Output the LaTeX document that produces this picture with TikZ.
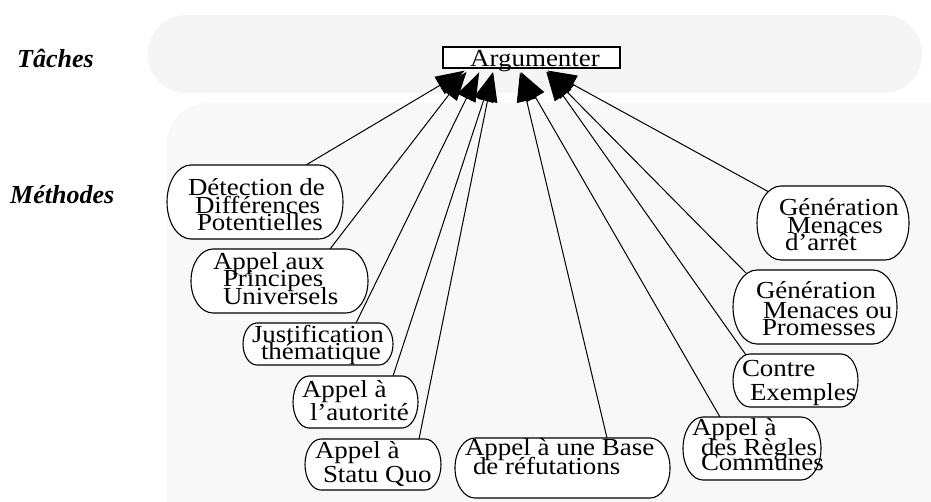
\documentclass[tikz,border=0pt]{standalone}
\usepackage{fontspec}
\setmainfont{Liberation Serif}
\newfontfamily\nodefont[FakeStretch=1.1]{Liberation Serif}
\usetikzlibrary{arrows.meta,calc}
\definecolor{bandA}{gray}{0.96}
\definecolor{bandB}{gray}{0.972}
\newcommand\mline[3]{\makebox[0pt][l]{\hspace*{#1pt}\raisebox{-#2pt}{#3}}}
\newcommand\stadium[2]{%
  \draw[mshape] let \p1=(#1.north west), \p2=(#1.south east), \n1={(\y1-\y2)/2} in
  (\x1+#2pt,\y1) -- (\x2-#2pt,\y1)
  arc[start angle=90,end angle=-90,x radius=#2pt,y radius={\n1*1pt}]
  -- (\x1+#2pt,\y2)
  arc[start angle=270,end angle=90,x radius=#2pt,y radius={\n1*1pt}] -- cycle;}
\tikzset{
  ph/.style={inner sep=0pt, outer sep=0pt, draw=none},
  mshape/.style={draw=black, fill=white, line width=1.1pt},
  txt/.style={inner sep=0pt, anchor=base, font=\nodefont\fontsize{24.5}{24.5}\selectfont},
  lab/.style={inner sep=0pt, anchor=base west, font=\bfseries\itshape\fontsize{26}{26}\selectfont},
  arr/.style={line width=1pt, -{Triangle[length=29pt,width=20pt]}, shorten >=4pt},
}
\begin{document}
\begin{tikzpicture}[x=1pt,y=-1pt]
\useasboundingbox (0,0) rectangle (931,501);
\clip (0,0) rectangle (931,501);
% background bands
\fill[bandA, rounded corners=38pt] (148,15) rectangle (922,93);
\fill[bandB, rounded corners=40pt] (167,103) rectangle (990,560);
% labels
\node[lab] (tach) at (17,67) {Tâches};
\node[lab] (meth) at (10,203) {Méthodes};
% task
\node[draw=black, fill=white, line width=1.2pt, minimum width=177, minimum height=21, inner sep=0pt,
      font=\nodefont\fontsize{24.5}{24.5}\selectfont] (arg) at (531.5,57.5)
      {\makebox[0pt]{\hspace*{7pt}\raisebox{-8.5pt}[0pt][0pt]{Argumenter}}};
% method placeholders
\node[ph, minimum width=176, minimum height=74] (s1) at (255,202) {};
\node[ph, minimum width=177, minimum height=64] (s2) at (279.5,281) {};
\node[ph, minimum width=150, minimum height=42] (s3) at (318,344) {};
\node[ph, minimum width=125, minimum height=52] (s4) at (355.5,402) {};
\node[ph, minimum width=136, minimum height=51] (s5) at (373,464.5) {};
\node[ph, minimum width=215, minimum height=60] (s6) at (562.5,468) {};
\node[ph, minimum width=138, minimum height=63] (s7) at (752,448.5) {};
\node[ph, minimum width=125, minimum height=53] (s8) at (795.5,380.5) {};
\node[ph, minimum width=164, minimum height=74] (s9) at (815,307) {};
\node[ph, minimum width=152, minimum height=74] (s10) at (833,223) {};
% connectors
\draw[arr] ($(s1.north west)+(139,0)$) -- ($(arg.south)+(-63.5,0)$);
\draw[arr] ($(s2.north west)+(139,0)$) -- ($(arg.south)+(-62.5,0)$);
\draw[arr] ($(s3.north west)+(113,0)$) -- ($(arg.south)+(-50.5,0)$);
\draw[arr] ($(s4.north west)+(100,0)$) -- ($(arg.south)+(-37.5,0)$);
\draw[arr] ($(s5.north west)+(114,0)$) -- ($(arg.south)+(-37.5,0)$);
\draw[arr] ($(s6.north west)+(152,0)$) -- ($(arg.south)+(-12.5,0)$);
\draw[arr] ($(s7.north west)+(37,0)$) -- ($(arg.south)+(-12.5,0)$);
\draw[arr] ($(s8.north west)+(13,1)$) -- ($(arg.south)+(12.5,0)$);
\draw[arr] ($(s9.north west)+(13,3)$) -- ($(arg.south)+(12.5,0)$);
\draw[arr] ($(s10.north west)+(12,6)$) -- ($(arg.south)+(12.5,0)$);
% shapes
\stadium{s1}{24}
\stadium{s2}{22}
\stadium{s3}{14}
\stadium{s4}{16}
\stadium{s5}{16}
\stadium{s6}{20}
\stadium{s7}{20}
\stadium{s8}{17}
\stadium{s9}{24}
\stadium{s10}{24}
% texts
\node[txt] (t1) at (s1.north west) {\mline{21}{30}{Détection de}\mline{28}{48}{Différences}\mline{30}{65}{Potentielles}};
\node[txt] (t2) at (s2.north west) {\mline{22}{20}{Appel aux}\mline{32}{37}{Principes}\mline{32}{55}{Universels}};
\node[txt] (t3) at (s3.north west) {\mline{9}{19}{Justification}\mline{18}{36}{thématique}};
\node[txt] (t4) at (s4.north west) {\mline{9}{21}{Appel à}\mline{17}{44}{l’autorité}};
\node[txt] (t5) at (s5.north west) {\mline{10}{19}{Appel à}\mline{18}{43}{Statu Quo}};
\node[txt] (t6) at (s6.north west) {\mline{10}{17}{Appel à une Base}\mline{18}{36}{de réfutations}};
\node[txt] (t7) at (s7.north west) {\mline{9}{18}{Appel à}\mline{18}{38}{des Règles}\mline{18}{53}{Communes}};
\node[txt] (t8) at (s8.north west) {\mline{9}{22}{Contre}\mline{17}{46}{Exemples}};
\node[txt] (t9) at (s9.north west) {\mline{23}{28}{Génération}\mline{30}{48}{Menaces ou}\mline{29}{65}{Promesses}};
\node[txt] (t10) at (s10.north west) {\mline{22}{29}{Génération}\mline{30}{47}{Menaces}\mline{28}{64}{d’arrêt}};
\end{tikzpicture}
\end{document}
